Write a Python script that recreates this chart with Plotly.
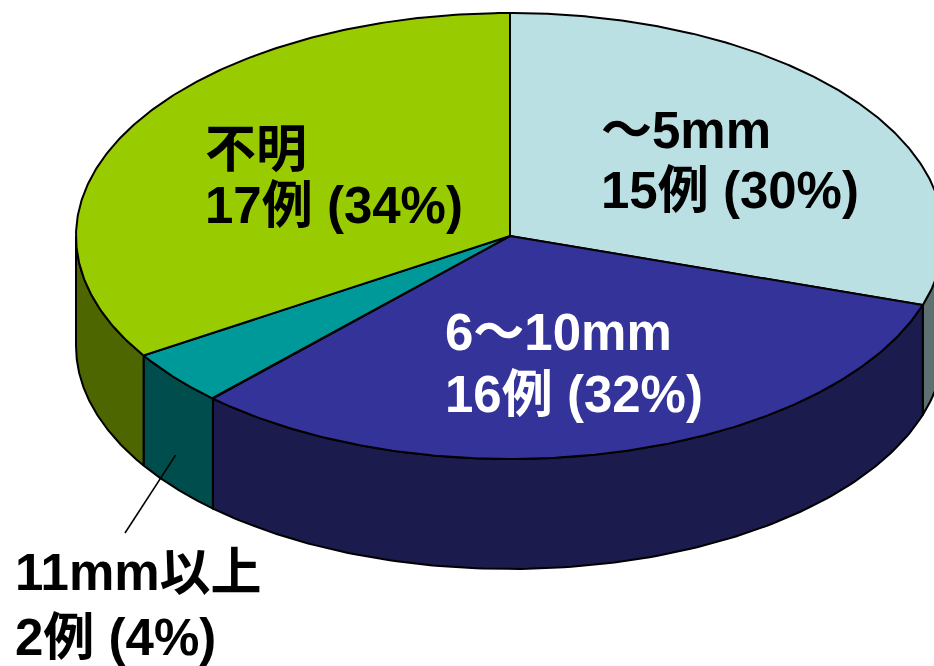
import numpy as np
import plotly.graph_objects as go

# Size groups and case counts
categories = ["～5mm", "6～10mm", "11mm以上", "不明"]
counts = [15, 16, 2, 17]
count_unit = "例"

# Face colours (top face / side wall) for each group
top_colors = ["#BBE0E3", "#333399", "#009999", "#99CC00"]
side_colors = ["#5E7072", "#1B1B4E", "#004D4D", "#4D6600"]
text_colors = ["#000000", "#FFFFFF", "#000000", "#000000"]

# Pixel-space geometry of the tilted disc
W, H = 934, 666
CX, CY = 510, 236          # centre of the top ellipse
RX, RY = 434, 223          # semi-axes of the top ellipse
DEPTH = 110                # thickness of the disc

total = sum(counts)
shares = [c / total for c in counts]
percents = [round(s * 100) for s in shares]
edges = np.concatenate([[0.0], np.cumsum(shares) * 360.0])


def ellipse_xy(theta_deg, drop=0.0):
    t = np.radians(theta_deg)
    return CX + RX * np.sin(t), CY - RY * np.cos(t) + drop


fig = go.Figure()
outline = dict(color="#000000", width=2)

# Side walls: only the front half (90..270 degrees clockwise from top) is visible
for i in range(len(counts)):
    a = max(edges[i], 90.0)
    b = min(edges[i + 1], 270.0)
    if b <= a:
        continue
    th = np.linspace(a, b, 120)
    xt, yt = ellipse_xy(th)
    xb, yb = ellipse_xy(th[::-1], DEPTH)
    xs = np.concatenate([xt, xb, xt[:1]])
    ys = np.concatenate([yt, yb, yt[:1]])
    fig.add_trace(go.Scatter(x=xs, y=ys, mode="lines", fill="toself",
                             fillcolor=side_colors[i], line=outline,
                             hoverinfo="skip"))

# Top faces of the wedges
for i in range(len(counts)):
    th = np.linspace(edges[i], edges[i + 1], 240)
    xa, ya = ellipse_xy(th)
    xs = np.concatenate([[CX], xa, [CX]])
    ys = np.concatenate([[CY], ya, [CY]])
    fig.add_trace(go.Scatter(x=xs, y=ys, mode="lines", fill="toself",
                             fillcolor=top_colors[i], line=outline,
                             hoverinfo="skip"))

# Label placement: left edge and vertical centre of the two text lines
label_pos = [
    (599, 130, 190),
    (443, 332, 394),
    (13, 572, 637),
    (203, 149, 205),
]
font_family = "Liberation Sans, Arial, 'Noto Sans CJK JP', sans-serif"

for i, cat in enumerate(categories):
    x0, y1, y2 = label_pos[i]
    line2 = f"{counts[i]}{count_unit} ({percents[i]}%)"
    for txt, yy in ((cat, y1), (line2, y2)):
        fig.add_annotation(x=x0, y=yy, xref="x", yref="y", text=f"<b>{txt}</b>",
                           showarrow=False, xanchor="left", yanchor="middle",
                           font=dict(family=font_family, size=51,
                                     color=text_colors[i]))

# Leader line from the small wedge's wall to its outside label
mid = (edges[2] + edges[3]) / 2
lx, ly = ellipse_xy(mid, DEPTH * 0.7)
fig.add_trace(go.Scatter(x=[lx, 125], y=[ly, 533], mode="lines",
                         line=dict(color="#000000", width=1.6),
                         hoverinfo="skip"))

fig.update_layout(
    width=W, height=H,
    margin=dict(l=0, r=0, t=0, b=0),
    paper_bgcolor="#FFFFFF", plot_bgcolor="#FFFFFF",
    showlegend=False,
    xaxis=dict(range=[0, W], visible=False, fixedrange=True),
    yaxis=dict(range=[H, 0], visible=False, fixedrange=True),
)

fig.write_html("out.html")
